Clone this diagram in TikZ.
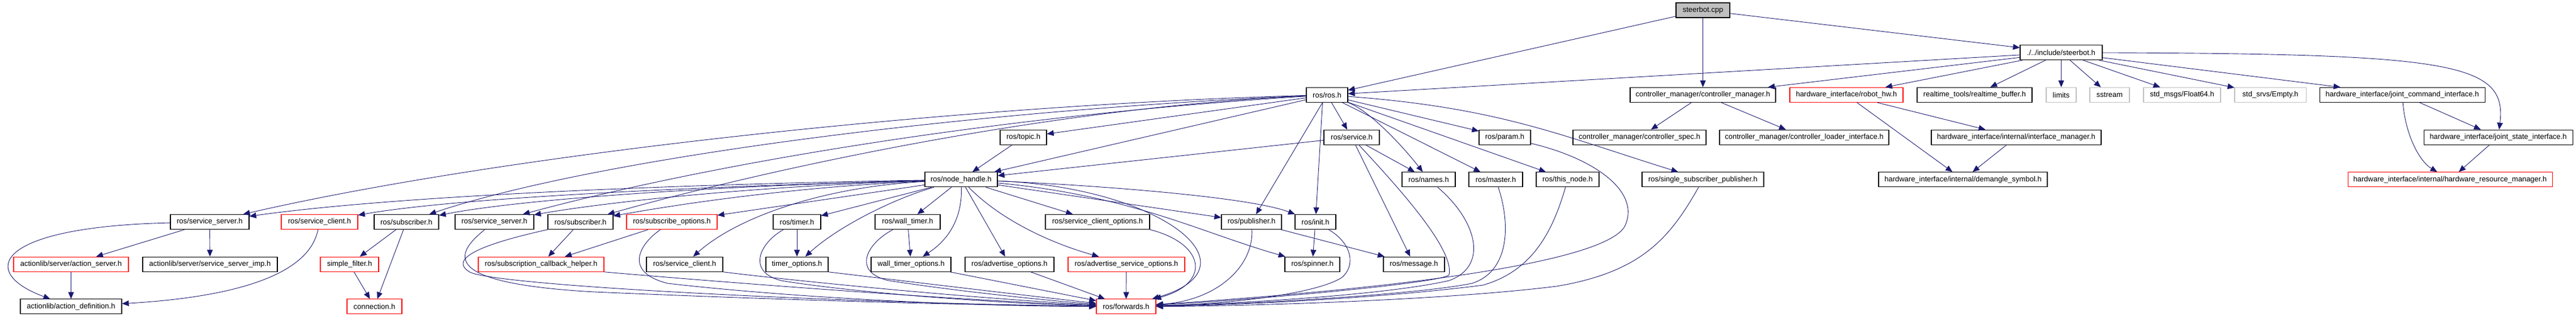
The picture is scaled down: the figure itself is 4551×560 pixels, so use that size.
\documentclass[tikz,border=0pt]{standalone}
\usepackage{fontspec}
\setmainfont{Liberation Sans}
\usetikzlibrary{arrows.meta}
\definecolor{edgeblue}{HTML}{191970}
\definecolor{filegray}{HTML}{BFBFBF}

\begin{document}
\begin{tikzpicture}[x=1pt, y=-1pt,
	file/.style={draw, rectangle, line width=1.1pt, fill=white, text centered, minimum height=26pt, inner sep=2pt, font={\fontsize{13}{15}\selectfont}},
	filered/.style={file, draw=red},
	filesys/.style={file, draw=filegray},
	dep/.style={edgeblue, line width=0.9pt, -{Triangle[length=12pt, width=10pt]}}]
			
			\useasboundingbox (0,0) rectangle (4551,560);
			
			%Nodes
			\node (cpp) at (3008.5,18) [file, fill=filegray, minimum width=95pt]{steerbot.cpp};
			
			\node (sbh) at (3641.5,92.7) [file, minimum width=145pt]{./../include/steerbot.h};
			
			\node (rosh) at (2344.5,167.4) [file, minimum width=73pt]{ros/ros.h};
			\node (cmgr) at (3008.5,167.4) [file, minimum width=257pt]{controller\_manager/controller\_manager.h};
			\node (robothw) at (3262,167.4) [filered, minimum width=200pt]{hardware\_interface/robot\_hw.h};
			\node (rtbuf) at (3488.5,167.4) [file, minimum width=203pt]{realtime\_tools/realtime\_buffer.h};
			\node (limits) at (3641.5,167.4) [filesys, minimum width=53pt]{limits};
			\node (sstream) at (3727,167.4) [filesys, minimum width=70pt]{sstream};
			\node (float64) at (3855,167.4) [filesys, minimum width=136pt]{std\_msgs/Float64.h};
			\node (empty) at (4011,167.4) [filesys, minimum width=126pt]{std\_srvs/Empty.h};
			\node (jcmd) at (4244,167.4) [file, minimum width=292pt]{hardware\_interface/joint\_command\_interface.h};
			
			\node (topic) at (1808,242.1) [file, minimum width=82pt]{ros/topic.h};
			\node (service) at (2388,242.1) [file, minimum width=98pt]{ros/service.h};
			\node (param) at (2658.5,242.1) [file, minimum width=91pt]{ros/param.h};
			\node (cspec) at (2896.5,242.1) [file, minimum width=235pt]{controller\_manager/controller\_spec.h};
			\node (cloader) at (3187.5,242.1) [file, minimum width=299pt]{controller\_manager/controller\_loader\_interface.h};
			\node (ifmgr) at (3562,242.1) [file, minimum width=300pt]{hardware\_interface/internal/interface\_manager.h};
			\node (jstate) at (4413.5,242.1) [file, minimum width=263pt]{hardware\_interface/joint\_state\_interface.h};
			
			\node (nodeh) at (1698,316.8) [file, minimum width=128pt]{ros/node\_handle.h};
			\node (names) at (2524,316.8) [file, minimum width=94pt]{ros/names.h};
			\node (master) at (2642.5,316.8) [file, minimum width=95pt]{ros/master.h};
			\node (thisnode) at (2769.5,316.8) [file, minimum width=111pt]{ros/this\_node.h};
			\node (ssp) at (3008.5,316.8) [file, minimum width=215pt]{ros/single\_subscriber\_publisher.h};
			\node (demangle) at (3468,316.8) [file, minimum width=298pt]{hardware\_interface/internal/demangle\_symbol.h};
			\node (hwres) at (4328.5,316.8) [filered, minimum width=361pt]{hardware\_interface/internal/hardware\_resource\_manager.h};
			
			\node (ssrva) at (370.5,391.5) [file, minimum width=139pt]{ros/service\_server.h};
			\node (sclr) at (564.5,391.5) [filered, minimum width=135pt]{ros/service\_client.h};
			\node (suba) at (718,391.5) [file, minimum width=114pt]{ros/subscriber.h};
			\node (ssrvb) at (873.5,391.5) [file, minimum width=139pt]{ros/service\_server.h};
			\node (subb) at (1025.5,391.5) [file, minimum width=115pt]{ros/subscriber.h};
			\node (subopt) at (1187,391.5) [filered, minimum width=160pt]{ros/subscribe\_options.h};
			\node (timer) at (1408,391.5) [file, minimum width=84pt]{ros/timer.h};
			\node (wtimer) at (1603.5,391.5) [file, minimum width=115pt]{ros/wall\_timer.h};
			\node (scopt) at (1939,391.5) [file, minimum width=184pt]{ros/service\_client\_options.h};
			\node (pub) at (2211,391.5) [file, minimum width=106pt]{ros/publisher.h};
			\node (init) at (2324,391.5) [file, minimum width=72pt]{ros/init.h};
			
			\node (aserver) at (125.5,466.2) [filered, minimum width=203pt]{actionlib/server/action\_server.h};
			\node (ssimp) at (371,466.2) [file, minimum width=238pt]{actionlib/server/service\_server\_imp.h};
			\node (sfilter) at (617.5,466.2) [filered, minimum width=103pt]{simple\_filter.h};
			\node (scbh) at (956,466.2) [filered, minimum width=222pt]{ros/subscription\_callback\_helper.h};
			\node (sclb) at (1209.5,466.2) [file, minimum width=135pt]{ros/service\_client.h};
			\node (topt) at (1408,466.2) [file, minimum width=110pt]{timer\_options.h};
			\node (wtopt) at (1609.5,466.2) [file, minimum width=141pt]{wall\_timer\_options.h};
			\node (advopt) at (1783.5,466.2) [file, minimum width=157pt]{ros/advertise\_options.h};
			\node (asopt) at (1990,466.2) [filered, minimum width=206pt]{ros/advertise\_service\_options.h};
			\node (spinner) at (2318.5,466.2) [file, minimum width=97pt]{ros/spinner.h};
			\node (message) at (2498,466.2) [file, minimum width=108pt]{ros/message.h};
			
			\node (adef) at (125.5,540.9) [file, minimum width=179pt]{actionlib/action\_definition.h};
			\node (conn) at (661.5,540.9) [filered, minimum width=97pt]{connection.h};
			\node (fwd) at (1989.5,540.9) [filered, minimum width=105pt]{ros/forwards.h};
			
			%Links
			\draw[dep] (cpp) -- (rosh);
			\draw[dep] (cpp) -- (cmgr);
			\draw[dep] (cpp) -- (sbh);
			\draw[dep] (sbh) -- (rosh);
			\draw[dep] (sbh) -- (cmgr);
			\draw[dep] (sbh) -- (robothw);
			\draw[dep] (sbh) -- (rtbuf);
			\draw[dep] (sbh) -- (limits);
			\draw[dep] (sbh) -- (sstream);
			\draw[dep] (sbh) -- (float64);
			\draw[dep] (sbh) -- (empty);
			\draw[dep] (sbh) -- (jcmd);
			\draw[dep] (sbh) .. controls (4330,95) and (4430,110) .. (jstate);
			\draw[dep] (cmgr) -- (cspec);
			\draw[dep] (cmgr) -- (cloader);
			\draw[dep] (robothw) -- (ifmgr);
			\draw[dep] (robothw) -- (demangle);
			\draw[dep] (ifmgr) -- (demangle);
			\draw[dep] (jcmd) -- (jstate);
			\draw[dep] (jcmd) .. controls (4250,240) and (4275,285) .. (hwres);
			\draw[dep] (jstate) -- (hwres);
			
			\draw[dep] (rosh) .. controls (1700,185) and (900,270) .. (ssrva);
			\draw[dep] (rosh) .. controls (1700,195) and (1050,280) .. (suba);
			\draw[dep] (rosh) .. controls (1750,205) and (1250,290) .. (ssrvb);
			\draw[dep] (rosh) .. controls (1850,190) and (1350,300) .. (subb);
			\draw[dep] (rosh) -- (topic);
			\draw[dep] (rosh) -- (nodeh);
			\draw[dep] (rosh) -- (service);
			\draw[dep] (rosh) -- (param);
			\draw[dep] (rosh) .. controls (2420,195) and (2480,260) .. (names);
			\draw[dep] (rosh) -- (master);
			\draw[dep] (rosh) -- (thisnode);
			\draw[dep] (rosh) .. controls (2650,190) and (2760,240) .. (ssp);
			\draw[dep] (rosh) -- (pub);
			\draw[dep] ([xshift=-8pt]rosh.south) -- (init);
			
			\draw[dep] (topic) -- (nodeh);
			\draw[dep] (service) -- (nodeh);
			\draw[dep] (service) -- (names);
			\draw[dep] (service) -- (message);
			\draw[dep] (service) .. controls (2470,330) and (2570,440) .. (2560,485) .. controls (2545,500) and (2200,530) .. (fwd);
			\draw[dep] (param) .. controls (2820,280) and (2900,340) .. (2870,400) .. controls (2840,450) and (2600,500) .. (fwd);
			\draw[dep] (names) .. controls (2610,390) and (2630,470) .. (2560,495) .. controls (2450,520) and (2200,535) .. (fwd);
			\draw[dep] (master) .. controls (2670,400) and (2665,480) .. (2600,500) .. controls (2500,520) and (2200,537) .. (fwd);
			\draw[dep] (thisnode) .. controls (2740,420) and (2700,480) .. (2620,503) .. controls (2450,525) and (2200,538) .. (fwd);
			\draw[dep] (ssp) .. controls (2950,420) and (2900,480) .. (2750,505) .. controls (2550,530) and (2200,540) .. (fwd);
			\draw[dep] (pub) -- (message);
			\draw[dep] (pub) .. controls (2215,470) and (2150,530) .. (fwd);
			\draw[dep] (init) -- (spinner);
			\draw[dep] (init) .. controls (2390,430) and (2395,470) .. (2370,490) .. controls (2330,515) and (2200,535) .. (fwd);
			
			\draw[dep] (nodeh) .. controls (1200,325) and (700,345) .. (ssrva);
			\draw[dep] (nodeh) .. controls (1200,330) and (800,350) .. (sclr);
			\draw[dep] (nodeh) .. controls (1200,330) and (900,355) .. (suba);
			\draw[dep] (nodeh) .. controls (1300,330) and (1050,360) .. (ssrvb);
			\draw[dep] (nodeh) .. controls (1400,330) and (1200,360) .. (subb);
			\draw[dep] (nodeh) -- (subopt);
			\draw[dep] (nodeh) -- (timer);
			\draw[dep] (nodeh) .. controls (1450,330) and (1300,385) .. (sclb);
			\draw[dep] (nodeh) .. controls (1580,350) and (1480,400) .. (topt);
			\draw[dep] (nodeh) -- (wtimer);
			\draw[dep] (nodeh) .. controls (1700,380) and (1680,420) .. (wtopt);
			\draw[dep] (nodeh) -- (advopt);
			\draw[dep] (nodeh) .. controls (1770,390) and (1860,430) .. (asopt);
			\draw[dep] (nodeh) -- (scopt);
			\draw[dep] (nodeh) -- (pub);
			\draw[dep] (nodeh) .. controls (1900,325) and (2200,345) .. (init);
			\draw[dep] (nodeh) .. controls (2000,345) and (2120,410) .. (spinner);
			\draw[dep] (nodeh) .. controls (2050,330) and (2230,470) .. (fwd);
			
			\draw[dep] (subb) -- (scbh);
			\draw[dep] (subopt) -- (scbh);
			\draw[dep] (timer) -- (topt);
			\draw[dep] (wtimer) -- (wtopt);
			\draw[dep] (ssrvb) .. controls (800,450) and (780,500) .. (1050,515) .. controls (1400,530) and (1700,538) .. (fwd);
			\draw[dep] (subb.south west) .. controls (900,420) and (780,450) .. (830,480) .. controls (880,505) and (1500,535) .. (fwd);
			\draw[dep] (subopt) .. controls (1130,430) and (1100,480) .. (1180,500) .. controls (1400,525) and (1700,540) .. (fwd);
			\draw[dep] (scbh.south east) .. controls (1300,500) and (1700,530) .. (fwd);
			\draw[dep] (sclb.south east) .. controls (1400,495) and (1700,525) .. (fwd);
			\draw[dep] (timer) .. controls (1340,430) and (1320,480) .. (1380,495) .. controls (1500,515) and (1750,535) .. (fwd);
			\draw[dep] (topt.south east) .. controls (1550,490) and (1800,520) .. (fwd);
			\draw[dep] (wtimer) .. controls (1530,430) and (1505,480) .. (1570,495) .. controls (1700,515) and (1850,530) .. (fwd);
			\draw[dep] (wtopt) -- (fwd);
			\draw[dep] (advopt) -- (fwd);
			\draw[dep] (asopt) -- (fwd);
			\draw[dep] (scopt.south east) .. controls (2130,430) and (2140,500) .. (fwd);
			
			\draw[dep] (ssrva) -- (aserver);
			\draw[dep] (ssrva) -- (ssimp);
			\draw[dep] (ssrva) .. controls (-10,400) and (-40,480) .. (adef);
			\draw[dep] (aserver) -- (adef);
			\draw[dep] (sclr) .. controls (545,490) and (400,525) .. (adef);
			\draw[dep] (suba) -- (sfilter);
			\draw[dep] (suba) -- (conn);
			\draw[dep] (sfilter) -- (conn);
			
			\end{tikzpicture}
\end{document}
